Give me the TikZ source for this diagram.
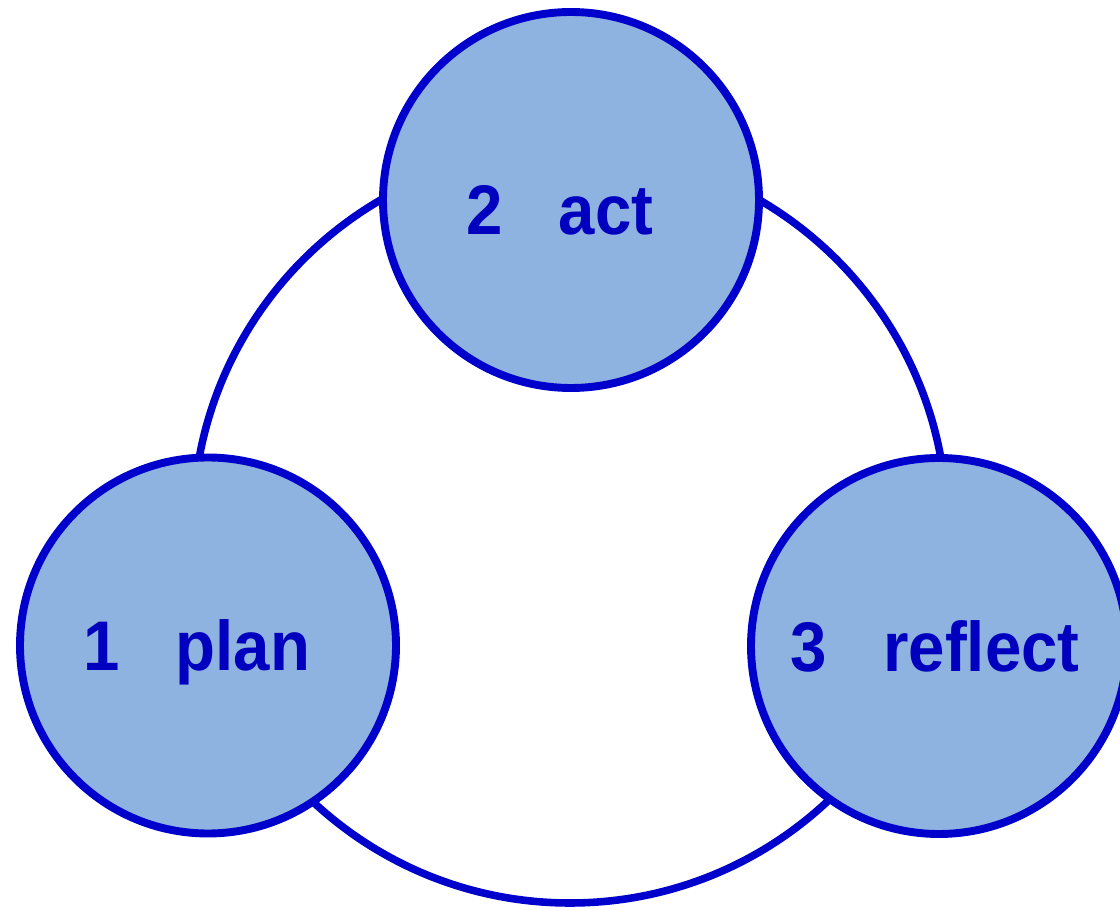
\documentclass[tikz,border=0pt]{standalone}
\usepackage{fontspec}
\setmainfont{Liberation Sans}
\newfontfamily\cyclefont[FakeStretch=0.93]{Liberation Sans}
\definecolor{RingBlue}{RGB}{0,0,204}
\definecolor{DiscBlue}{RGB}{142,179,225}
\definecolor{TextBlue}{RGB}{0,0,190}
\tikzset{stage/.style={circle,draw=RingBlue,fill=DiscBlue,line width=4.5pt,minimum size=7.52cm,inner sep=0pt,
  text=TextBlue,font=\cyclefont\bfseries\fontsize{40}{40}\selectfont,text depth=0pt}}
\begin{document}
\begin{tikzpicture}
\useasboundingbox (0,0) rectangle (22.4,18.18);
\coordinate (ring) at (11.40,7.66);\draw[RingBlue,line width=4.3pt] (ring) circle (7.54);
\node[stage,text height=1.37cm] (act) at (11.42,14.18) {2\hspace{0.8em}act\kern0.45cm};
\node[stage] (plan) at (4.16,5.27) {1\hspace{0.8em}plan\kern0.45cm};
\node[stage] (reflect) at (18.78,5.26) {3\hspace{0.8em}reflect\kern0.15cm};
\end{tikzpicture}
\end{document}
